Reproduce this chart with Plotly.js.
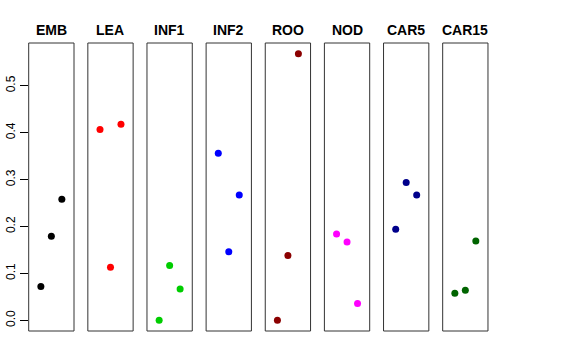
<!DOCTYPE html>
<html>
<head>
<meta charset="utf-8">
<script src="https://cdn.plot.ly/plotly-3.0.1.min.js"></script>
<style>html,body{margin:0;padding:0;background:#fff;}#chart{width:576px;height:360px;}</style>
</head>
<body>
<div id="chart"></div>
<script>
const panels = ["EMB", "LEA", "INF1", "INF2", "ROO", "NOD", "CAR5", "CAR15"];
const xPos = [1, 2, 3];
const EMB = [0.072, 0.179, 0.258];
const LEA = [0.407, 0.113, 0.418];
const INF1 = [0.0, 0.117, 0.067];
const INF2 = [0.356, 0.146, 0.267];
const ROO = [0.0, 0.138, 0.5685];
const NOD = [0.184, 0.167, 0.036];
const CAR5 = [0.194, 0.294, 0.267];
const CAR15 = [0.058, 0.064, 0.169];
const seriesValues = [EMB, LEA, INF1, INF2, ROO, NOD, CAR5, CAR15];
const colors = ["#000000", "#FF0000", "#00CD00", "#0000FF", "#8B0000", "#FF00FF", "#00008B", "#006400"];
const yTicks = [0, 0.1, 0.2, 0.3, 0.4, 0.5];
const yTickLabels = ["0.0", "0.1", "0.2", "0.3", "0.4", "0.5"];

const W = 576, H = 360;
const left0 = 28.7, step = 59.14, pw = 45.3;
const boxTop = 43, boxBottom = 331;

const traces = [];
const layout = {
  width: W, height: H,
  margin: {l: 0, r: 0, t: 0, b: 0},
  paper_bgcolor: "#fff", plot_bgcolor: "rgba(0,0,0,0)",
  showlegend: false,
  font: {family: "Liberation Sans, Arial, sans-serif", color: "#000"},
  shapes: [], annotations: []
};

layout.yaxis = {
  domain: [(H - boxBottom) / H, (H - boxTop) / H],
  range: [-0.02274, 0.59126],
  anchor: "x",
  tickvals: yTicks, ticktext: yTickLabels,
  ticks: "outside", ticklen: 8, tickcolor: "#000", tickwidth: 1,
  tickangle: -90,
  tickfont: {size: 12, color: "#000"},
  showgrid: false, zeroline: false, showline: false
};

panels.forEach((name, i) => {
  const ax = i === 0 ? "x" : "x" + (i + 1);
  const axKey = i === 0 ? "xaxis" : "xaxis" + (i + 1);
  const l = left0 + i * step;
  layout[axKey] = {
    domain: [l / W, (l + pw) / W],
    range: [-0.16, 4.16],
    anchor: "y",
    showticklabels: false, ticks: "", showgrid: false, zeroline: false, showline: false
  };
  traces.push({
    type: "scatter", mode: "markers",
    x: xPos, y: seriesValues[i],
    xaxis: ax, yaxis: "y",
    marker: {color: colors[i], size: 7},
    hoverinfo: "skip"
  });
  layout.shapes.push({
    type: "rect", xref: ax + " domain", yref: "y domain",
    x0: 0, x1: 1, y0: 0, y1: 1,
    line: {color: "#333", width: 1}, fillcolor: "rgba(0,0,0,0)"
  });
  layout.annotations.push({
    text: "<b>" + name + "</b>",
    xref: ax + " domain", yref: "paper",
    x: 0.5, y: (H - 30) / H, xanchor: "center", yanchor: "middle",
    showarrow: false,
    font: {size: 14, color: "#000", family: "Liberation Sans, Arial, sans-serif"}
  });
});

Plotly.newPlot("chart", traces, layout, {staticPlot: true, displayModeBar: false});
</script>
</body>
</html>
